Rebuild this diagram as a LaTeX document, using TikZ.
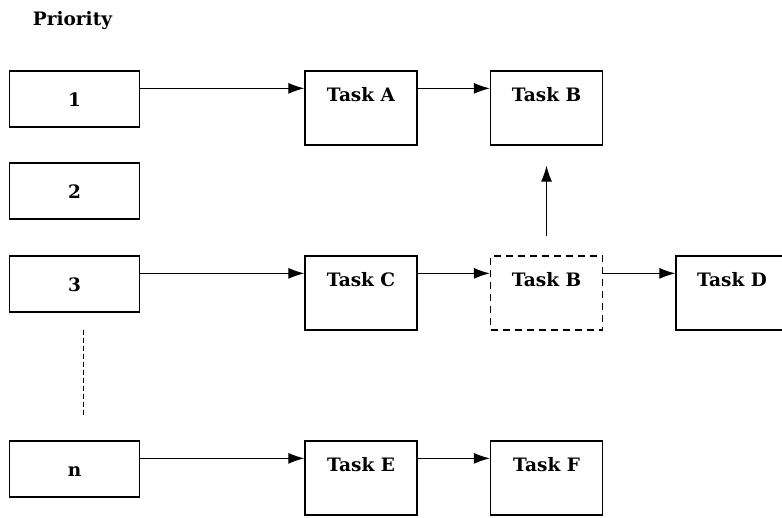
\documentclass[tikz,border=0pt]{standalone}
\usepackage{fontspec}
\setmainfont{DejaVu Serif}
\usetikzlibrary{arrows.meta,calc}
\begin{document}
\begin{tikzpicture}[x=1pt,y=-1pt,
  font=\fontsize{18.5}{22}\selectfont\bfseries,
  prio/.style={draw, line width=1.3pt, minimum width=130pt, minimum height=56pt, inner sep=0pt, text height=14pt, text depth=0pt},
  taskbox/.style={draw, line width=1.3pt, minimum width=112pt, inner xsep=0pt, inner ysep=0pt, text height=30pt, text depth=44pt},
  ghostbox/.style={taskbox, dash pattern=on 7pt off 5pt},
  arr/.style={-{Latex[length=16pt,width=11pt]}, line width=1.1pt},
  dots/.style={dash pattern=on 5pt off 3pt, line width=1pt}
]
\useasboundingbox (0,0) rectangle (782,517);
\clip (0,0) rectangle (782,517);
\node (title) at (72.5,21) {Priority};
\node[prio] (p1) at (74.5,99) {1};
\node[prio] (p2) at (74.5,191) {2};
\node[prio] (p3) at (74.5,284) {3};
\node[prio] (pn) at (74.5,469) {n};
\node[taskbox] (ta) at (361,108) {Task A};
\node[taskbox] (tb1) at (546.5,108) {Task B};
\node[taskbox] (tc) at (361,293) {Task C};
\node[ghostbox] (tb2) at (546.5,293) {Task B};
\node[taskbox] (td) at (732,293) {Task D};
\node[taskbox] (te) at (361,478) {Task E};
\node[taskbox] (tf) at (546.5,478) {Task F};
\draw[arr] ([yshift=-18pt]p1.north east) -- ([yshift=-18pt]ta.north west);
\draw[arr] ([yshift=-18pt]ta.north east) -- ([yshift=-18pt]tb1.north west);
\draw[arr] ([yshift=-18pt]p3.north east) -- ([yshift=-18pt]tc.north west);
\draw[arr] ([yshift=-18pt]tc.north east) -- ([yshift=-18pt]tb2.north west);
\draw[arr] ([yshift=-18pt]tb2.north east) -- ([yshift=-18pt]td.north west);
\draw[arr] ([yshift=-18pt]pn.north east) -- ([yshift=-18pt]te.north west);
\draw[arr] ([yshift=-18pt]te.north east) -- ([yshift=-18pt]tf.north west);
\draw[arr] ([yshift=19pt]tb2.north) -- ([yshift=-20pt]tb1.south);
\draw[dots] ([xshift=9pt,yshift=-17pt]p3.south) -- ([xshift=9pt,yshift=23pt]pn.north);
\end{tikzpicture}
\end{document}
